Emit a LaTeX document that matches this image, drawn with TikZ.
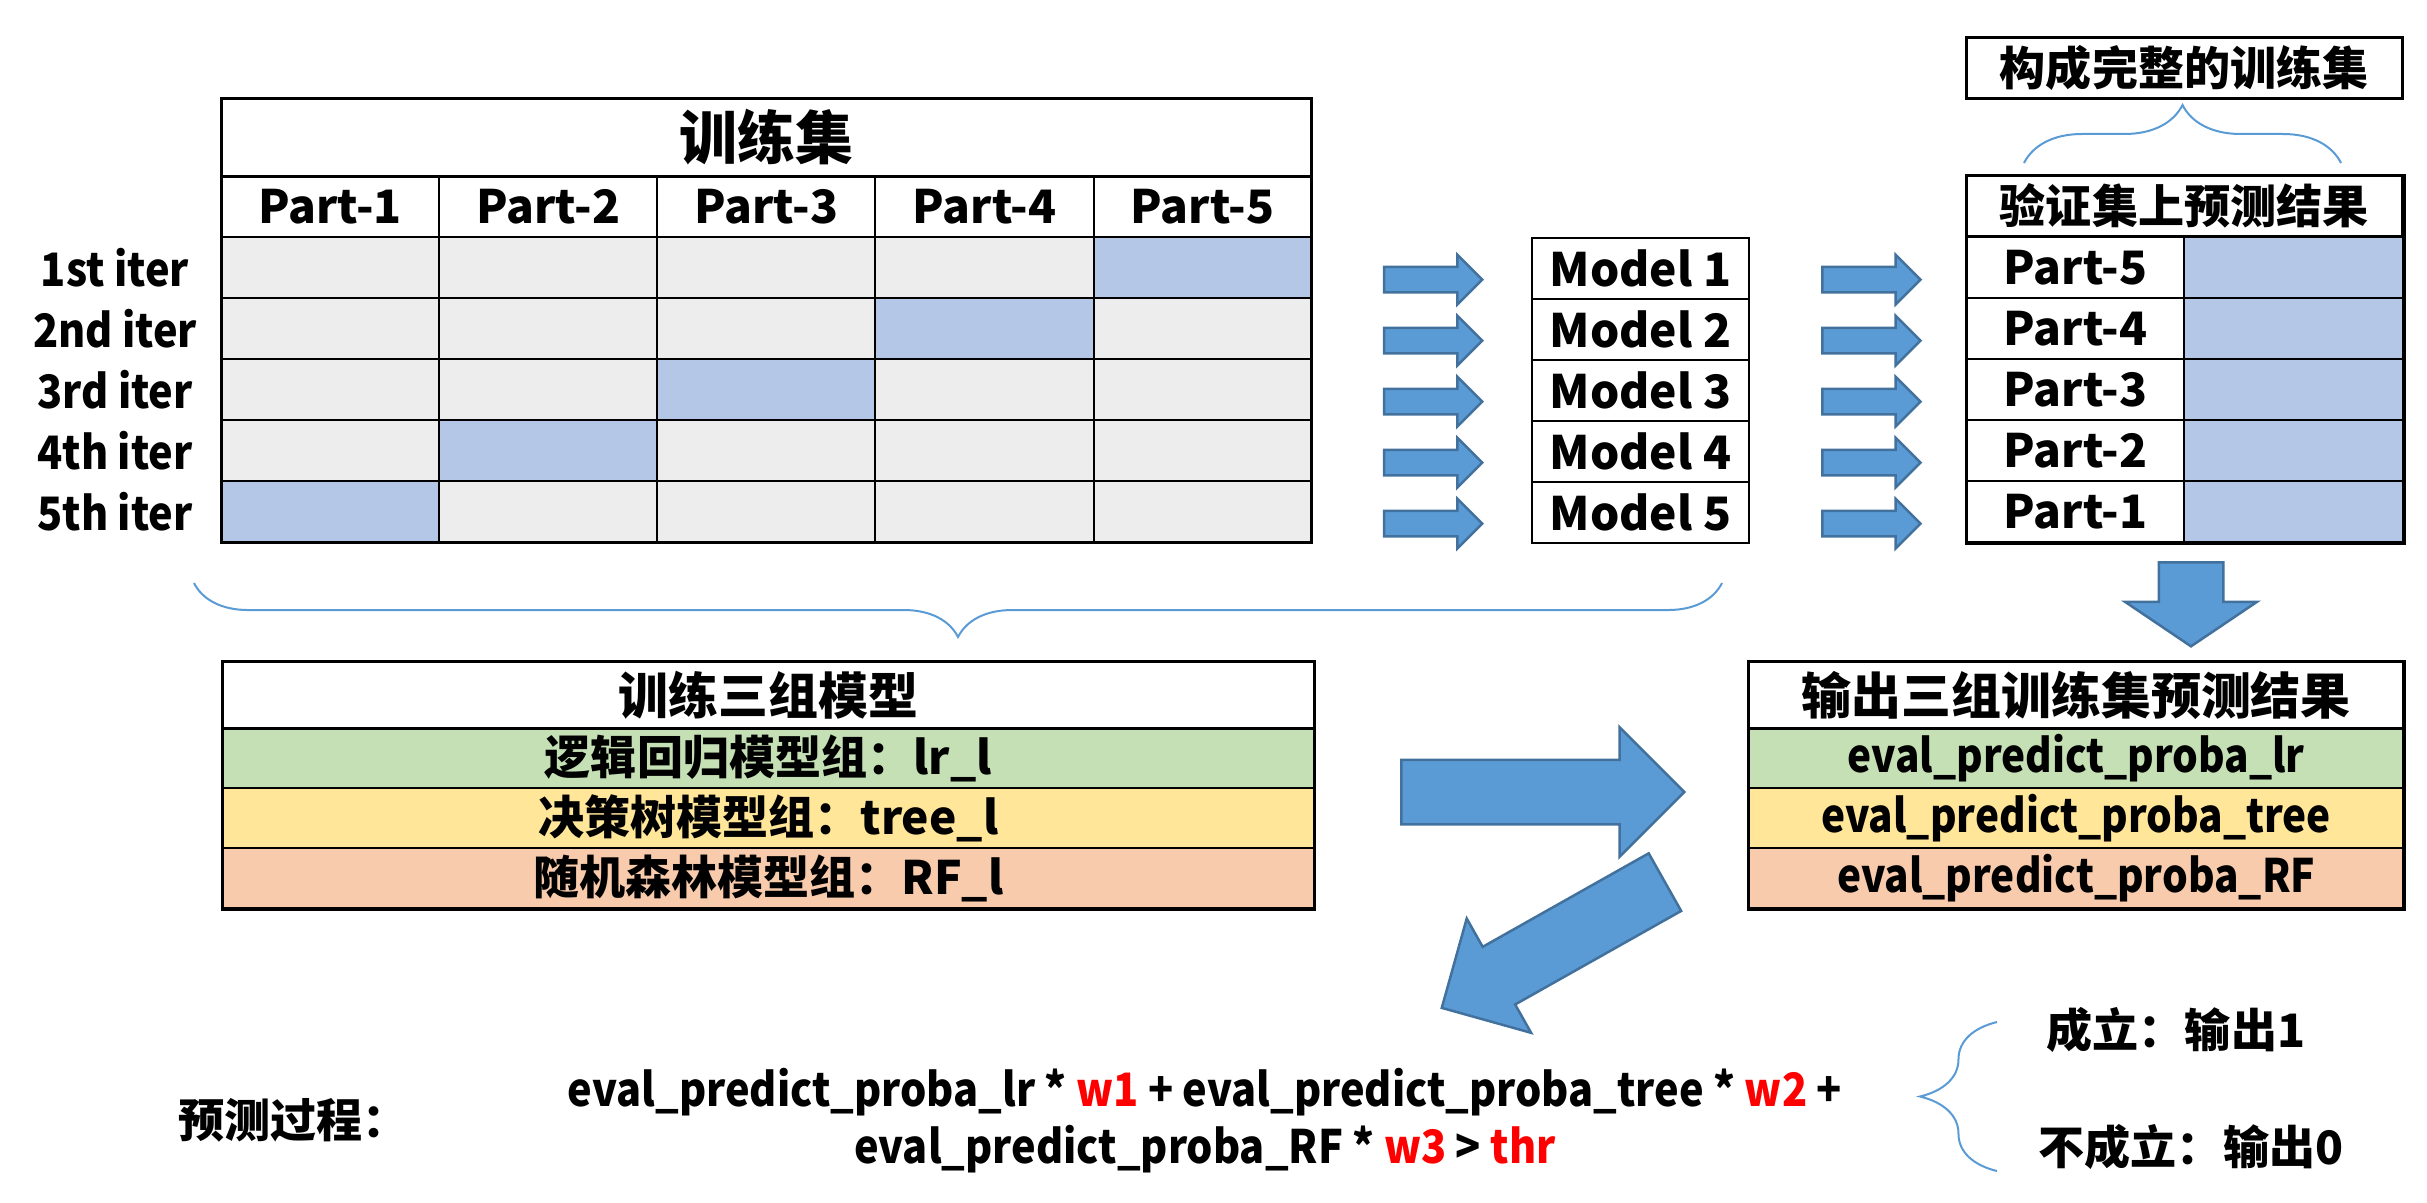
\documentclass[tikz,border=0pt]{standalone}
\usepackage{fontspec}
\setmainfont{Noto Sans CJK SC}
\newfontfamily\latinnarrow{Noto Sans CJK SC}[FakeStretch=0.9]
\newfontfamily\latinnarrower{Noto Sans CJK SC}[FakeStretch=0.88]
\usetikzlibrary{
  matrix,
  positioning,
  shapes.arrows,
  decorations.pathreplacing
}
\definecolor{cellgrey}{HTML}{EDEDED}
\definecolor{cellblue}{HTML}{B4C7E7}
\definecolor{rowgreen}{HTML}{C5E0B4}
\definecolor{rowyellow}{HTML}{FFE699}
\definecolor{roworange}{HTML}{F8CBAD}
\definecolor{arrowfill}{HTML}{5B9BD5}
\definecolor{arrowline}{HTML}{41719C}
\newcommand\bodyfont{\fontsize{13.1pt}{16.2pt}\selectfont\bfseries}
\newcommand\groupfont{\fontsize{14.2pt}{17pt}\selectfont\bfseries}
\newcommand\titlefont{\fontsize{16.5pt}{19pt}\selectfont\bfseries}

\begin{document}
\begin{tikzpicture}[x=0.01cm,y=-0.01cm,
      cell/.style={
         rectangle,
         draw=black,
         line width=0.02cm,
         inner sep=0pt,
         outer sep=0pt,
         anchor=center,
         minimum width=2.18cm,
         minimum height=0.61cm,
         font=\bodyfont
      },
      grid matrix/.style={
         matrix of nodes,
         nodes in empty cells,
         anchor=north west,
         inner sep=0pt,
         outer sep=0pt,
         row sep=-0.02cm,
         column sep=-0.02cm
      },
      iterlabel/.style={draw=none,fill=none,minimum width=2.14cm,font=\bodyfont\latinnarrow},
      validcell/.style={fill=cellblue},
      tableframe/.style={draw=black,line width=0.03cm},
      plaintext/.style={inner sep=0pt,font=\bodyfont},
      bluearrow/.style={
         single arrow,
         single arrow head extend=#1,
         fill=arrowfill,
         draw=arrowline,
         line width=0.025cm,
         inner xsep=0pt,
         anchor=tail
      },
      smallarrow/.style={bluearrow=0.12cm,inner ysep=0.115cm,minimum height=0.98cm},
      bigarrow/.style={bluearrow=0.325cm,inner ysep=0.31cm},
      bracepath/.style={
         decorate,
         decoration={brace,amplitude=#1},
         draw=arrowfill,
         line width=0.02cm
      }
    ]
    \useasboundingbox (0,0) rectangle (2427,1202);
    % training set grid
    \matrix (grid) [grid matrix,
       nodes={cell, fill=cellgrey},
       column 1/.style={nodes={iterlabel}},
       row 1/.style={nodes={fill=white}}] at (8,175) {
          & Part-1 & Part-2 & Part-3 & Part-4 & Part-5 \\
 1st iter & & & & & |[validcell]| \\
 2nd iter & & & & |[validcell]| & \\
 3rd iter & & & |[validcell]| & & \\
 4th iter & & |[validcell]| & & & \\
 5th iter & |[validcell]| & & & & \\
    };
    \node (gridtitle) [cell, fill=white, minimum width=10.9cm, minimum height=0.77cm,
       anchor=south west, font=\titlefont] at (grid-1-2.north west) {训练集};
    \draw[tableframe] (gridtitle.north west) rectangle (grid-6-6.south east);
    \draw[tableframe] (gridtitle.south west) -- (gridtitle.south east);

    % models
    \matrix (models) [grid matrix, nodes={cell, minimum width=2.17cm}] at (1531,237) {
 Model 1 \\ Model 2 \\ Model 3 \\ Model 4 \\ Model 5 \\
    };

    % predictions on the held-out part
    \node (fullset) [cell, minimum width=4.36cm, anchor=north west] at (1966,37) {构成完整的训练集};
    \draw[tableframe] (fullset.north west) rectangle (fullset.south east);
    \node (predhead) [cell, minimum width=4.36cm, anchor=north west] at (1966,175) {验证集上预测结果};
    \matrix (preds) [grid matrix,
       nodes={cell},
       column 1/.style={nodes={minimum width=2.17cm}},
       column 2/.style={nodes={minimum width=2.19cm, fill=cellblue}}] at (predhead.south west) {
 Part-5 & \\ Part-4 & \\ Part-3 & \\ Part-2 & \\ Part-1 & \\
    };
    \draw[tableframe] (predhead.north west) rectangle (preds.south east);
    \draw[tableframe] (predhead.south west) -- (predhead.south east);

    \foreach \r in {1,...,5} {
       \node (inarrow\r) [smallarrow] at ([xshift=-1.49cm,yshift=-0.11cm]models-\r-1.west) {};
       \node (outarrow\r) [smallarrow] at ([xshift=0.72cm,yshift=-0.11cm]models-\r-1.east) {};
    }

    % braces
    \draw[bracepath=0.58cm] (2024,163) -- (2341,163);
    \draw[bracepath=0.54cm] (1722,583) -- (194,583);
    \draw[bracepath=0.77cm] (1997,1171) -- (1997,1022);

    % model groups and their outputs
    \matrix (trainsets) [grid matrix,
       nodes={cell, minimum width=10.9cm, minimum height=0.6cm},
       row 1/.style={nodes={minimum height=0.66cm, font=\groupfont}},
       row 2/.style={nodes={fill=rowgreen}},
       row 3/.style={nodes={fill=rowyellow}},
       row 4/.style={nodes={fill=roworange}}] at (222,661) {
 训练三组模型 \\
 逻辑回归模型组：lr\_l \\
 决策树模型组：tree\_l \\
 随机森林模型组：RF\_l \\
    };
    \draw[tableframe] (trainsets.north west) rectangle (trainsets.south east);
    \draw[tableframe] (trainsets-1-1.south west) -- (trainsets-1-1.south east);

    \matrix (evalsets) [grid matrix,
       nodes={cell, minimum width=6.54cm, minimum height=0.6cm, font=\bodyfont\latinnarrower},
       row 1/.style={nodes={minimum height=0.66cm, font=\groupfont}},
       row 2/.style={nodes={fill=rowgreen}},
       row 3/.style={nodes={fill=rowyellow}},
       row 4/.style={nodes={fill=roworange}}] at (1748,661) {
 输出三组训练集预测结果 \\
 eval\_predict\_proba\_lr \\
 eval\_predict\_proba\_tree \\
 eval\_predict\_proba\_RF \\
    };
    \draw[tableframe] (evalsets.north west) rectangle (evalsets.south east);
    \draw[tableframe] (evalsets-1-1.south west) -- (evalsets-1-1.south east);

    \node (downarrow) [bigarrow, minimum height=0.84cm, single arrow tip angle=112,
       single arrow head extend=0.335cm, rotate=-90] at (2191,561) {};
    \node (rightarrow) [bigarrow, minimum height=2.83cm] at (1400,792) {};
    \node (backarrow) [bigarrow, inner ysep=0.318cm, minimum height=2.56cm, rotate=209.4] at (1666,881.5) {};

    % prediction rule
    \node (rulename) [plaintext, anchor=west] at (178,1120) {预测过程：};
    \node (rule) [plaintext, align=center, font=\bodyfont\latinnarrow] at (1205,1121) {eval\_predict\_proba\_lr * \textcolor{red}{w1} + eval\_predict\_proba\_tree * \textcolor{red}{w2} +\\
       eval\_predict\_proba\_RF * \textcolor{red}{w3} > \textcolor{red}{thr}};
    \node (ruleyes) [plaintext, anchor=west] at (2046,1030) {成立：输出1};
    \node (ruleno) [plaintext, anchor=west] at (2038,1147) {不成立：输出0};
\end{tikzpicture}
\end{document}
